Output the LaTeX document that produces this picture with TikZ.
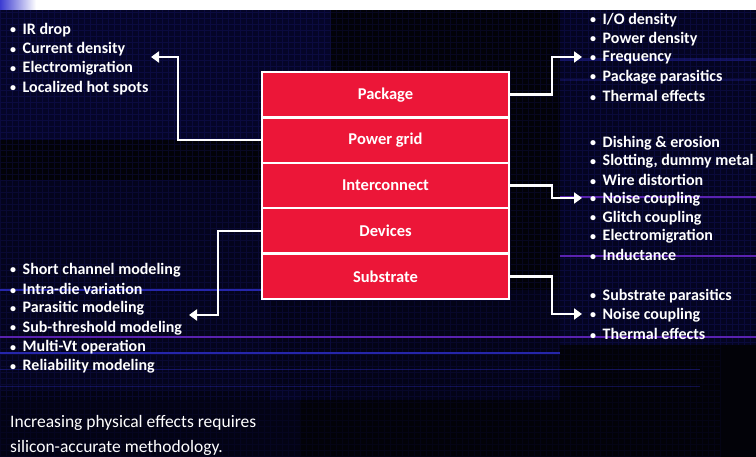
\documentclass[tikz,border=0pt]{standalone}
\usepackage{fontspec}
\setmainfont{Carlito}
\usetikzlibrary{arrows.meta}

\definecolor{slidebg}{HTML}{020208}
\definecolor{layerred}{HTML}{EC1638}
\definecolor{navy}{HTML}{0A0A50}
\definecolor{gridblue}{HTML}{1A1A78}
\definecolor{streakviolet}{HTML}{5A22B0}
\definecolor{streakblue}{HTML}{2626AA}
\definecolor{cornerblue}{HTML}{3C3CD2}

\newcommand{\bul}{\makebox[12.5pt][l]{\raisebox{0.5pt}{\scalebox{0.75}{\textbullet}}}}

\tikzset{
  layer/.style={draw=white, line width=2.5pt, fill=layerred, minimum width=247pt,
    minimum height=45.4pt, inner sep=0pt, text=white,
    font=\fontsize{16.5}{18}\selectfont\bfseries},
  conn/.style={draw=white, line width=2.6pt, -{Triangle[length=8pt,width=11pt]}},
  item/.style={anchor=west, inner sep=0pt, text=white,
    font=\fontsize{16}{18}\selectfont\bfseries},
  note/.style={anchor=base west, inner sep=0pt, text=white,
    font=\fontsize{17.5}{19}\selectfont},
  haze/.style={fill=navy, opacity=#1},
  gridline/.style={draw=gridblue, line width=0.5pt, opacity=#1},
  streak/.style={line width=#1},
}

\begin{document}
\begin{tikzpicture}[x=1pt,y=-1pt]
  % page and background
  \useasboundingbox (0,0) rectangle (756,457);
  \fill[slidebg] (0,0) rectangle (756,457);
  \fill[white] (0,0) rectangle (756,10);
  \shade[left color=cornerblue, right color=white] (0,0) rectangle (36,10);

  % dark blue hazy patches with a fine grid
  \fill[haze=0.45] (0,10) rectangle (330,140);
  \fill[haze=0.35] (560,10) rectangle (756,345);
  \fill[haze=0.30] (0,180) rectangle (270,390);
  \fill[haze=0.22] (270,290) rectangle (560,400);
  \fill[haze=0.18] (0,390) rectangle (300,457);
  \draw[gridline=0.30, step=6pt] (0,10) grid (330,140);
  \draw[gridline=0.22, step=6pt] (330,10) grid (560,290);
  \draw[gridline=0.30, step=6pt] (560,10) grid (756,345);
  \draw[gridline=0.25, step=6pt] (0,140) grid (330,400);
  \draw[gridline=0.20, step=6pt] (330,290) grid (560,400);
  \draw[gridline=0.12, step=6pt] (0,400) grid (560,457);
  \draw[gridline=0.12, step=6pt] (560,345) grid (720,457);

  % horizontal streaks
  \draw[streakblue, streak=3pt, opacity=0.4] (560,60) -- (756,60);
  \draw[streakblue, streak=2pt, opacity=0.3] (560,80) -- (756,80);
  \draw[streakviolet, streak=1.5pt] (560,197) -- (756,197);
  \draw[streakviolet, streak=1.5pt] (560,256) -- (756,256);
  \draw[streakblue, streak=1.5pt] (0,290) -- (300,290);
  \draw[streakviolet, streak=1.8pt] (0,337) -- (756,337);
  \draw[streakblue, streak=1.5pt] (0,353) -- (560,353);
  \draw[streakblue, streak=1pt, opacity=0.5] (0,370) -- (700,370);
  \draw[streakblue, streak=1pt, opacity=0.4] (0,387) -- (700,387);

  % layer stack
  \node[layer] (pkg) at (385.5,94.7)  {Package};
  \node[layer] (pg)  at (385.5,140.1) {Power grid};
  \node[layer] (ic)  at (385.5,185.5) {Interconnect};
  \node[layer] (dev) at (385.5,230.9) {Devices};
  \node[layer] (sub) at (385.5,276.3) {Substrate};

  % effect lists
  \foreach \t [count=\i] in {IR drop, Current density, Electromigration, Localized hot spots}
    \node[item] (pa\i) at (10, 30+19.3*\i-19.3) {\bul\t};
  \foreach \t [count=\i] in {I/O density, Power density, Frequency, Package parasitics, Thermal effects}
    \node[item] (pb\i) at (590, 20+19*\i-19) {\bul\t};
  \foreach \t [count=\i] in {Dishing \& erosion, {Slotting, dummy metal}, Wire distortion,
      Noise coupling, Glitch coupling, Electromigration, Inductance}
    \node[item] (pc\i) at (590, 143+18.7*\i-18.7) {\bul\t};
  \foreach \t [count=\i] in {Substrate parasitics, Noise coupling, Thermal effects}
    \node[item] (pd\i) at (590, 296+19*\i-19) {\bul\t};
  \foreach \t [count=\i] in {Short channel modeling, Intra-die variation, Parasitic modeling,
      Sub-threshold modeling, Multi-Vt operation, Reliability modeling}
    \node[item] (pe\i) at (10, 270+19.3*\i-19.3) {\bul\t};

  % closing remark
  \node[note] (rem1) at (10,428) {Increasing physical effects requires};
  \node[note] (rem2) at (10,453) {silicon-accurate methodology.};

  % connectors from layers to their lists
  \coordinate (tipA) at (151,57);
  \coordinate (bendA) at (178,57);
  \coordinate (tipB) at (582,57);
  \coordinate (bendB) at (552,57);
  \coordinate (tipC) at (582,198);
  \coordinate (bendC) at (552,198);
  \coordinate (tipD) at (582,314);
  \coordinate (bendD) at (552,314);
  \coordinate (tipE) at (189,315);
  \coordinate (bendE) at (218,315);

  \draw[conn] (pg.west)  -| (bendA) -- (tipA);
  \draw[conn] (pkg.east) -| (bendB) -- (tipB);
  \draw[conn] (ic.east)  -| (bendC) -- (tipC);
  \draw[conn] (sub.east) -| (bendD) -- (tipD);
  \draw[conn] (dev.west) -| (bendE) -- (tipE);
\end{tikzpicture}
\end{document}
